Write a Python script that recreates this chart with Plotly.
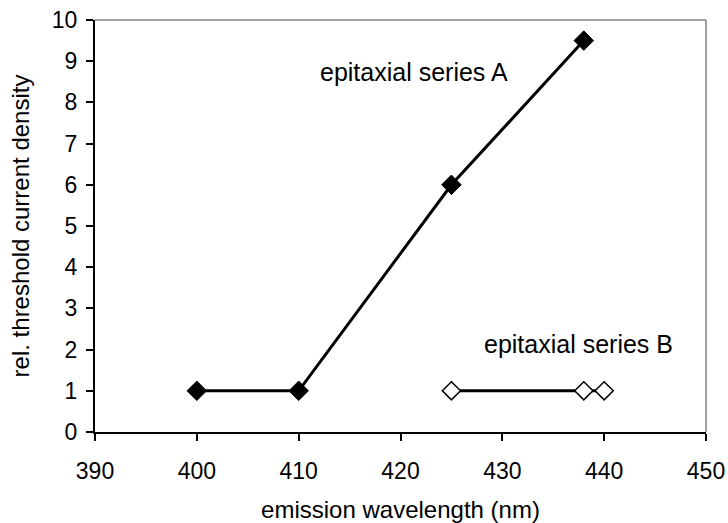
import plotly.graph_objects as go

# Data
wl_a = [400, 410, 425, 438]
j_a = [1, 1, 6, 9.5]
wl_b = [425, 438, 440]
j_b = [1, 1, 1]
label_a = "epitaxial series A"
label_b = "epitaxial series B"

font_family = "Liberation Sans, Arial, sans-serif"

fig = go.Figure()
fig.add_trace(go.Scatter(
    x=wl_a, y=j_a, mode="lines+markers",
    line=dict(color="black", width=3),
    marker=dict(symbol="diamond", size=15, color="black", line=dict(color="black", width=1)),
    showlegend=False, cliponaxis=False,
))
fig.add_trace(go.Scatter(
    x=wl_b, y=j_b, mode="lines+markers",
    line=dict(color="black", width=3),
    marker=dict(symbol="diamond", size=14, color="white", line=dict(color="black", width=1.5)),
    showlegend=False, cliponaxis=False,
))

fig.add_annotation(x=421.3, y=8.74, text=label_a, showarrow=False,
                   font=dict(family=font_family, size=25, color="black"))
fig.add_annotation(x=437.5, y=2.14, text=label_b, showarrow=False,
                   font=dict(family=font_family, size=25, color="black"))

# Top and right borders (gray)
fig.add_shape(type="line", xref="paper", yref="paper", x0=0, x1=1, y0=1, y1=1,
              line=dict(color="#808080", width=1.5))
fig.add_shape(type="line", xref="paper", yref="paper", x0=1, x1=1, y0=0, y1=1,
              line=dict(color="#808080", width=1.5))

fig.update_layout(
    width=728, height=523,
    margin=dict(l=95, r=22, t=20, b=91, autoexpand=False),
    plot_bgcolor="white", paper_bgcolor="white",
    font=dict(family=font_family, size=23, color="black"),
    xaxis=dict(
        range=[390, 450], tickmode="linear", tick0=390, dtick=10,
        showgrid=False, zeroline=False, automargin=False,
        showline=True, linecolor="black", linewidth=2,
        ticks="outside", ticklen=7, tickcolor="black", tickwidth=1.5,
        tickfont=dict(size=23), ticklabelstandoff=10,
        title=dict(text="emission wavelength (nm)", font=dict(size=24), standoff=19),
    ),
    yaxis=dict(
        range=[0, 10], tickmode="linear", tick0=0, dtick=1,
        showgrid=False, zeroline=False, automargin=False,
        showline=True, linecolor="black", linewidth=2,
        ticks="outside", ticklen=7, tickcolor="black", tickwidth=1.5,
        tickfont=dict(size=23), ticklabelstandoff=4,
        title=dict(text="rel. threshold current density", font=dict(size=24), standoff=15),
    ),
)

fig.write_html("out.html")
